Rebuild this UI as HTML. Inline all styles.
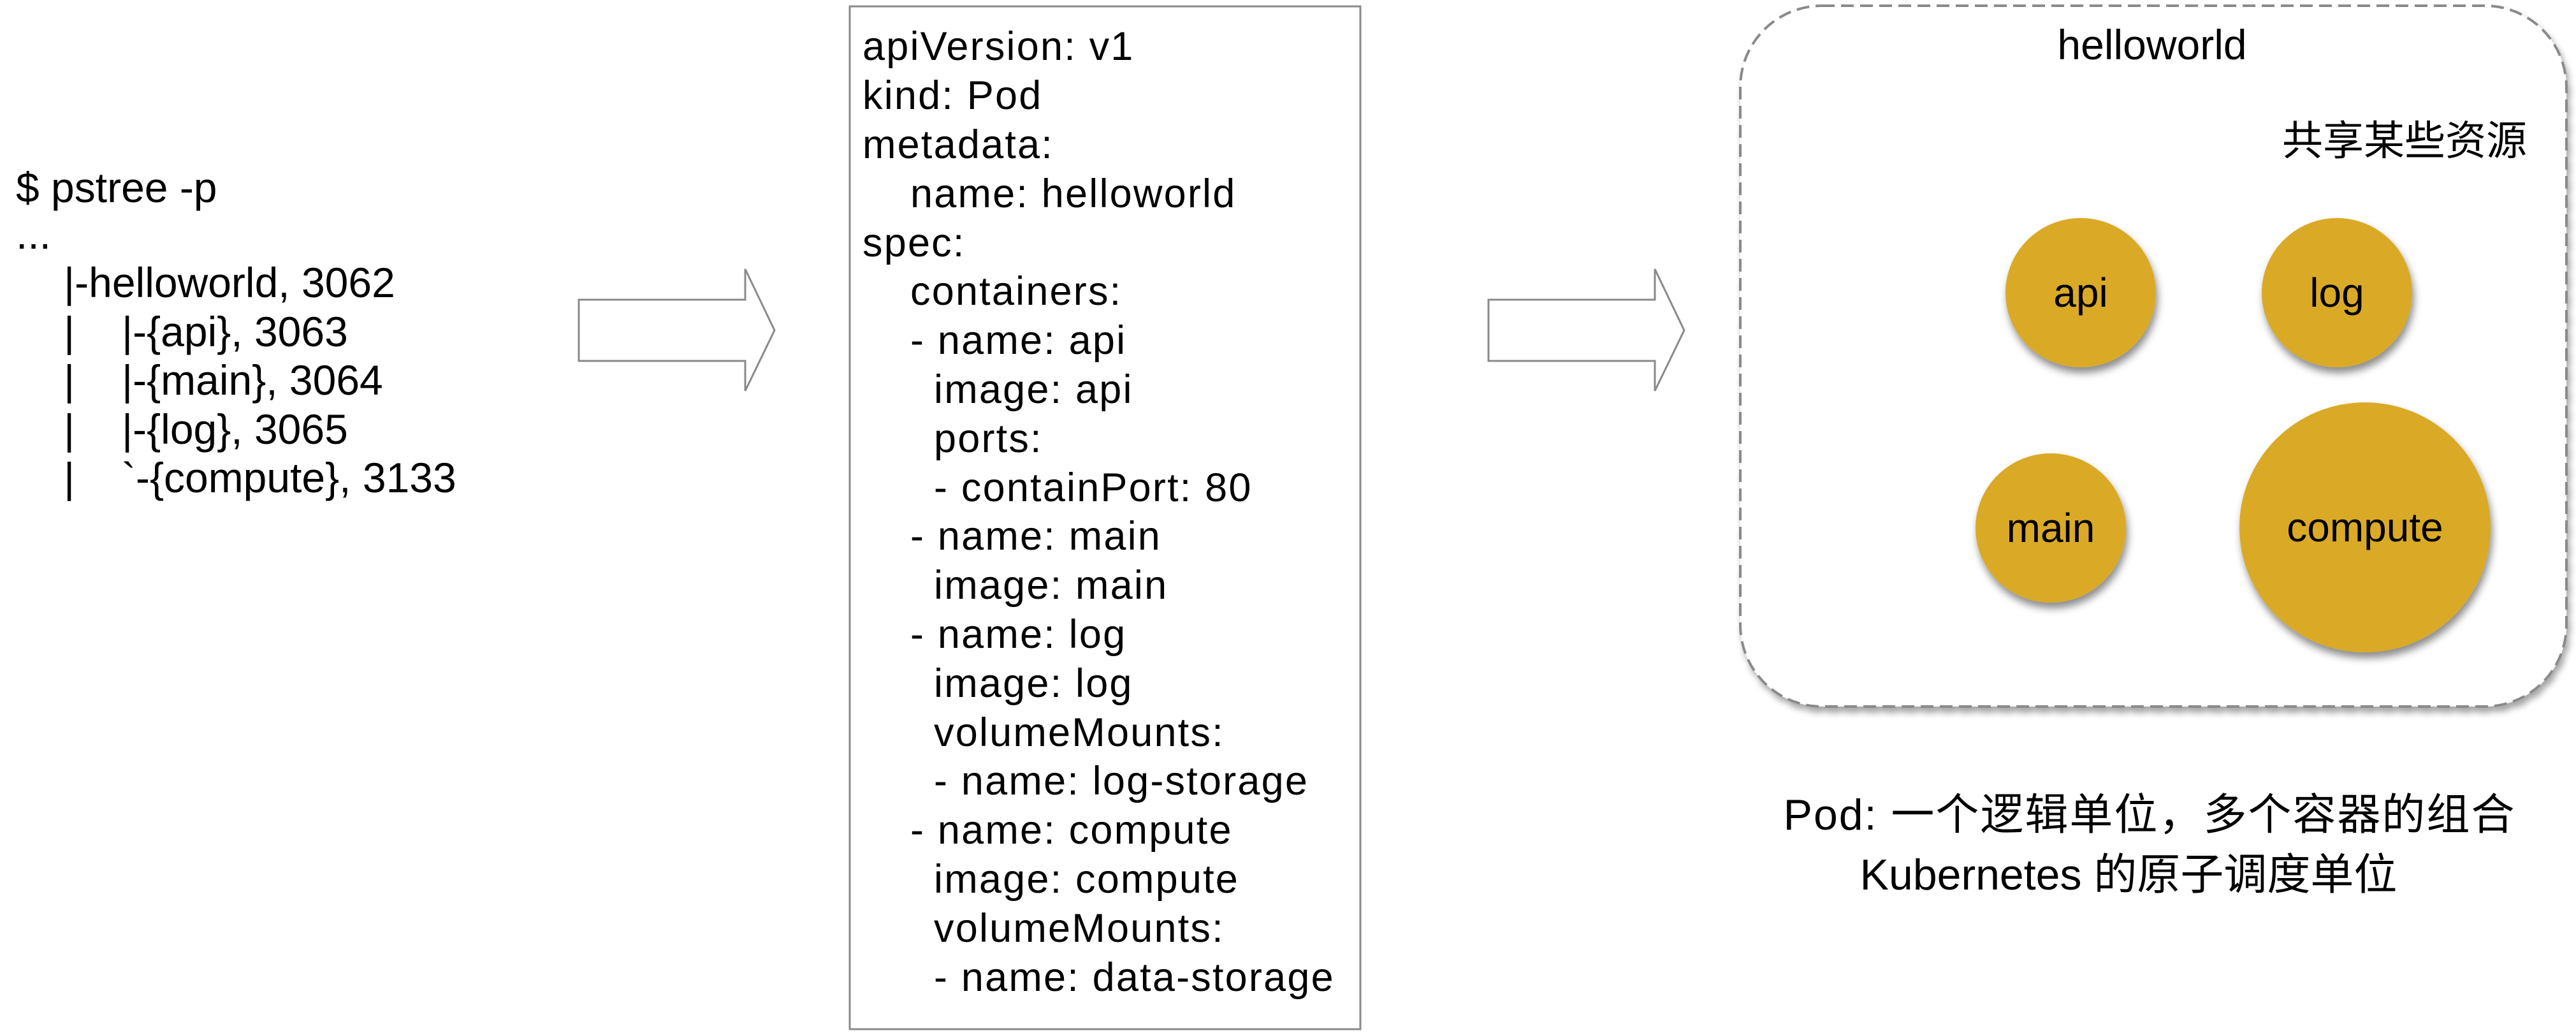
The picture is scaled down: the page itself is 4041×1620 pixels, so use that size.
<!DOCTYPE html>
<html><head><meta charset="utf-8"><style>
html,body{margin:0;padding:0;background:#fff;width:4041px;height:1620px;overflow:hidden}
svg{display:block}
text{font-family:"Liberation Sans","Noto Sans CJK SC",sans-serif;fill:#000}
</style></head><body>
<svg width="4041" height="1620" viewBox="0 0 4041 1620" xmlns="http://www.w3.org/2000/svg">
<defs>
<filter id="sh" x="-20%" y="-20%" width="150%" height="150%">
<feDropShadow dx="3" dy="9" stdDeviation="6" flood-color="#000" flood-opacity="0.45"/>
</filter>
<filter id="sh2" x="-5%" y="-5%" width="115%" height="115%">
<feDropShadow dx="4" dy="8" stdDeviation="5" flood-color="#000" flood-opacity="0.35"/>
</filter>
</defs>

<!-- left pstree -->
<g font-size="66">
<text x="25" y="317">$ pstree -p</text>
<text x="25" y="390">...</text>
<text x="100" y="466">|-helloworld, 3062</text>
<text x="100" y="543">|</text><text x="191" y="543">|-{api}, 3063</text>
<text x="100" y="619">|</text><text x="191" y="619">|-{main}, 3064</text>
<text x="100" y="696">|</text><text x="191" y="696">|-{log}, 3065</text>
<text x="100" y="772">|</text><text x="191" y="772">`-{compute}, 3133</text>
</g>

<!-- arrows -->
<path d="M908 470 L1169 470 L1169 422 L1215 518 L1169 613 L1169 566 L908 566 Z" fill="#fff" stroke="#8a8a8a" stroke-width="3"/>
<path d="M2335 470 L2596 470 L2596 422 L2642 518 L2596 613 L2596 566 L2335 566 Z" fill="#fff" stroke="#8a8a8a" stroke-width="3"/>

<!-- YAML box -->
<rect x="1333" y="10" width="801" height="1604" fill="#fff" stroke="#8a8a8a" stroke-width="3"/>
<g font-size="63" letter-spacing="2.2">
<text x="1353" y="94">apiVersion: v1</text>
<text x="1353" y="171">kind: Pod</text>
<text x="1353" y="248">metadata:</text>
<text x="1428" y="325">name: helloworld</text>
<text x="1353" y="402">spec:</text>
<text x="1428" y="478">containers:</text>
<text x="1428" y="555">- name: api</text>
<text x="1465" y="632">image: api</text>
<text x="1465" y="709">ports:</text>
<text x="1465" y="786">- containPort: 80</text>
<text x="1428" y="862">- name: main</text>
<text x="1465" y="939">image: main</text>
<text x="1428" y="1016">- name: log</text>
<text x="1465" y="1093">image: log</text>
<text x="1465" y="1170">volumeMounts:</text>
<text x="1465" y="1246">- name: log-storage</text>
<text x="1428" y="1323">- name: compute</text>
<text x="1465" y="1400">image: compute</text>
<text x="1465" y="1477">volumeMounts:</text>
<text x="1465" y="1554">- name: data-storage</text>
</g>

<!-- pod box -->
<rect x="2730" y="9" width="1296" height="1099" rx="128" ry="128" fill="#fff" stroke="#8a8a8a" stroke-width="4" stroke-dasharray="20 10" filter="url(#sh2)"/>
<text x="3376" y="93" font-size="66" text-anchor="middle">helloworld</text>
<text x="3964" y="243" font-size="64" text-anchor="end">共享某些资源</text>

<g fill="#DAAA28" filter="url(#sh)">
<ellipse cx="3264" cy="459" rx="118" ry="117"/>
<ellipse cx="3666" cy="459" rx="118" ry="117"/>
<ellipse cx="3217" cy="828" rx="118" ry="117"/>
<ellipse cx="3710" cy="827" rx="197" ry="196"/>
</g>
<g font-size="64" text-anchor="middle">
<text x="3264" y="481">api</text>
<text x="3666" y="481">log</text>
<text x="3217" y="850">main</text>
<text x="3710" y="849">compute</text>
</g>

<!-- caption -->
<text x="3372" y="1301" font-size="68" text-anchor="middle" letter-spacing="2">Pod: 一个逻辑单位，多个容器的组合</text>
<text x="3339" y="1395" font-size="68" text-anchor="middle">Kubernetes 的原子调度单位</text>
</svg>
</body></html>
